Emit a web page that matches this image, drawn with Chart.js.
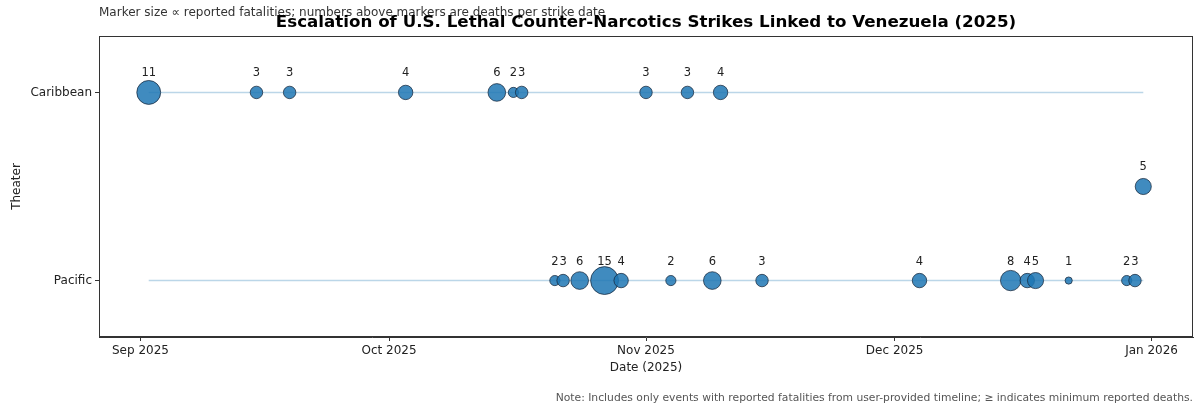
<!DOCTYPE html>
<html lang="en">

<head>
    <meta charset="UTF-8">
    <title>Escalation of U.S. Lethal Counter-Narcotics Strikes Linked to Venezuela (2025)</title>
    <script src="https://cdn.jsdelivr.net/npm/chart.js"></script>
    <style>
        html, body { margin: 0; padding: 0; background: #fff; }
        #wrap { width: 1197px; height: 409px; }
    </style>
</head>

<body>
    <div id="wrap">
        <canvas id="strikes" width="1197" height="409"></canvas>
    </div>

    <script>
        // strike dates and deaths
        const caribbeanDates = ["2025-09-02", "2025-09-15", "2025-09-19", "2025-10-03", "2025-10-14", "2025-10-16", "2025-10-17", "2025-11-01", "2025-11-06", "2025-11-10"];
        const caribbeanDeaths = [11, 3, 3, 4, 6, 2, 3, 3, 3, 4];

        const pacificDates = ["2025-10-21", "2025-10-22", "2025-10-24", "2025-10-27", "2025-10-29", "2025-11-04", "2025-11-09", "2025-11-15", "2025-12-04", "2025-12-15", "2025-12-17", "2025-12-18", "2025-12-22", "2025-12-29", "2025-12-30"];
        const pacificDeaths = [2, 3, 6, 15, 4, 2, 6, 3, 4, 8, 4, 5, 1, 2, 3];

        // one event sits between the two rows (no theater tick)
        const otherDates = ["2025-12-31"];
        const otherDeaths = [5];

        const theaterLabels = ["Pacific", "Caribbean"];
        const tickDates = ["2025-09-01", "2025-10-01", "2025-11-01", "2025-12-01", "2026-01-01"];
        const tickLabels = ["Sep 2025", "Oct 2025", "Nov 2025", "Dec 2025", "Jan 2026"];

        // days counted from Sep 1 2025
        const origin = Date.UTC(2025, 8, 1);
        function toDay(s) {
            const p = s.split("-");
            return (Date.UTC(+p[0], +p[1] - 1, +p[2]) - origin) / 86400000;
        }

        const allDays = caribbeanDates.concat(pacificDates, otherDates).map(toDay);
        const firstDay = Math.min(...allDays);
        const lastDay = Math.max(...allDays);
        const pad = (lastDay - firstDay) * 0.05;
        const tickDays = tickDates.map(toDay);

        function points(dates, y) {
            return dates.map(d => ({ x: toDay(d), y: y }));
        }

        const font = "'DejaVu Sans', sans-serif";
        const fill = "rgba(31, 119, 180, 0.85)";
        const edge = "rgba(20, 35, 55, 0.8)";

        function sizeFrom(deaths) {
            return ctx => 3.6 * Math.sqrt(deaths[ctx.dataIndex] || 0);
        }

        function dotSet(dates, deaths, y) {
            return {
                type: "scatter",
                data: points(dates, y),
                deaths: deaths,
                backgroundColor: fill,
                borderColor: edge,
                borderWidth: 0.9,
                pointRadius: sizeFrom(deaths),
                pointHoverRadius: sizeFrom(deaths),
                order: 1,
            };
        }

        function rowLine(y) {
            return {
                type: "line",
                data: [{ x: firstDay, y: y }, { x: lastDay, y: y }],
                borderColor: "rgba(31, 119, 180, 0.3)",
                borderWidth: 1.6,
                pointRadius: 0,
                order: 2,
            };
        }

        // numbers above markers, titles, frame
        const decorations = {
            id: "decorations",
            afterDatasetsDraw(chart) {
                const c = chart.ctx;
                c.save();
                c.fillStyle = "#222";
                c.font = "11.5px " + font;
                c.textAlign = "center";
                c.textBaseline = "middle";
                chart.data.datasets.forEach((ds, i) => {
                    if (!ds.deaths) return;
                    chart.getDatasetMeta(i).data.forEach((pt, j) => {
                        c.fillText(String(ds.deaths[j]), pt.x, pt.y - 19);
                    });
                });
                c.restore();
            },
            afterDraw(chart) {
                const c = chart.ctx;
                const a = chart.chartArea;
                c.save();
                c.strokeStyle = "#333";
                c.lineWidth = 1;
                c.strokeRect(a.left + 0.5, a.top + 0.5, a.right - a.left - 1, a.bottom - a.top - 1);

                c.textBaseline = "middle";
                c.fillStyle = "#333";
                c.font = "12px " + font;
                c.textAlign = "left";
                c.fillText("Marker size \u221d reported fatalities; numbers above markers are deaths per strike date", a.left, 13);

                c.fillStyle = "#000";
                c.font = "bold 16.7px " + font;
                c.textAlign = "center";
                c.fillText("Escalation of U.S. Lethal Counter-Narcotics Strikes Linked to Venezuela (2025)", (a.left + a.right) / 2, 23);

                c.fillStyle = "#222";
                c.font = "12px " + font;
                c.fillText("Date (2025)", (a.left + a.right) / 2, 368);

                c.save();
                c.translate(17, (a.top + a.bottom) / 2);
                c.rotate(-Math.PI / 2);
                c.fillText("Theater", 0, 0);
                c.restore();

                c.fillStyle = "#555";
                c.font = "10.75px " + font;
                c.textAlign = "right";
                c.fillText("Note: Includes only events with reported fatalities from user-provided timeline; \u2265 indicates minimum reported deaths.", 1193, 398);
                c.restore();
            }
        };

        new Chart(document.getElementById("strikes"), {
            data: {
                datasets: [
                    rowLine(1),
                    rowLine(0),
                    dotSet(caribbeanDates, caribbeanDeaths, 1),
                    dotSet(pacificDates, pacificDeaths, 0),
                    dotSet(otherDates, otherDeaths, 0.5),
                ],
            },
            options: {
                responsive: false,
                animation: false,
                layout: { autoPadding: false, padding: { top: 36, right: 4, left: 0, bottom: 0 } },
                plugins: {
                    legend: { display: false },
                    tooltip: { enabled: false },
                },
                scales: {
                    x: {
                        type: "linear",
                        min: firstDay - pad,
                        max: lastDay + pad,
                        afterFit(scale) {
                            scale.height = 72;
                            scale.paddingLeft = 0;
                            scale.paddingRight = 0;
                        },
                        afterBuildTicks(scale) {
                            scale.ticks = tickDays.map(v => ({ value: v }));
                        },
                        ticks: {
                            autoSkip: false,
                            maxRotation: 0,
                            padding: 3,
                            color: "#222",
                            font: { family: font, size: 12 },
                            callback: v => tickLabels[tickDays.indexOf(v)],
                        },
                        grid: { drawOnChartArea: false, tickLength: 4, color: "#333" },
                        border: { color: "#333", width: 1 },
                    },
                    y: {
                        type: "linear",
                        min: -0.3,
                        max: 1.3,
                        afterFit(scale) {
                            scale.width = 99;
                            scale.paddingTop = 0;
                            scale.paddingBottom = 0;
                        },
                        afterBuildTicks(scale) {
                            scale.ticks = theaterLabels.map((t, i) => ({ value: i }));
                        },
                        ticks: {
                            autoSkip: false,
                            padding: 3,
                            color: "#222",
                            font: { family: font, size: 12 },
                            callback: v => theaterLabels[v],
                        },
                        grid: { drawOnChartArea: false, tickLength: 4, color: "#333" },
                        border: { color: "#333", width: 1 },
                    },
                },
            },
            plugins: [decorations],
        });
    </script>
</body>

</html>
